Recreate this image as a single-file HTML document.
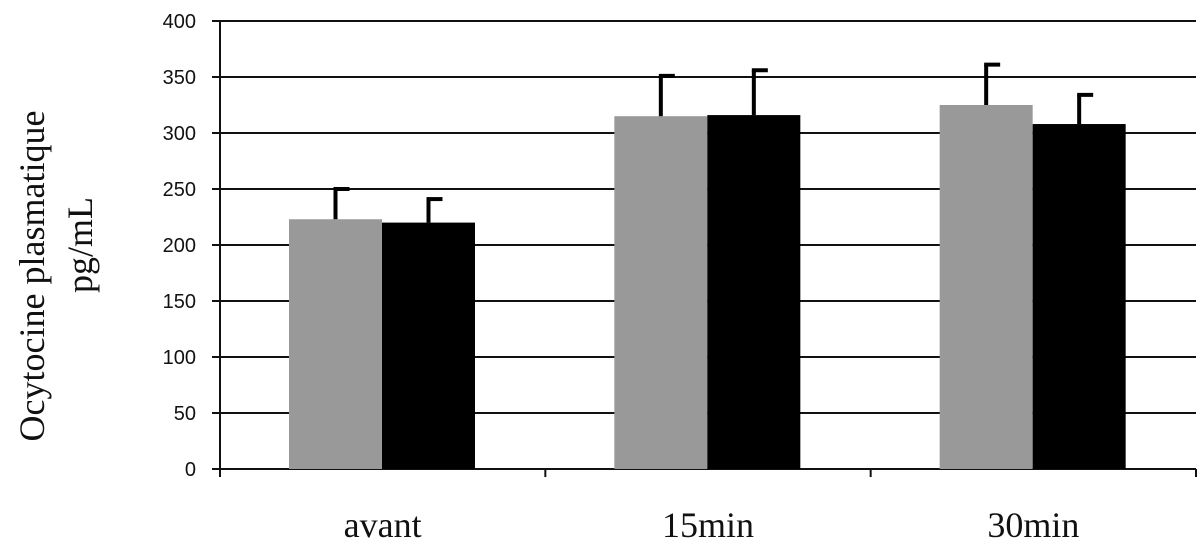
<!DOCTYPE html>
<html><head><meta charset="utf-8"><style>
html,body{margin:0;padding:0;background:#fff;}
svg{display:block;}
</style></head><body>
<svg id="chart" width="1200" height="546" xmlns="http://www.w3.org/2000/svg"></svg>
<script>
const categories = ["avant", "15min", "30min"];
const seriesGray = [223, 315, 325];
const seriesBlack = [220, 316, 308];
const errGray = [27, 36, 36];
const errBlack = [21, 40, 26];
const yTicks = [0, 50, 100, 150, 200, 250, 300, 350, 400];

const svg = document.getElementById('chart');
const NS = 'http://www.w3.org/2000/svg';
const x0 = 220, x1 = 1196, yTop = 21, yBot = 469, yMax = 400;
const catW = (x1 - x0) / categories.length;
const barW = 93, groupOff = 69;
function y(v){ return yBot - (v / yMax) * (yBot - yTop); }
function mk(tag, attrs){ const e = document.createElementNS(NS, tag); for (const k in attrs) e.setAttribute(k, attrs[k]); svg.appendChild(e); return e; }

yTicks.forEach(t => {
  const g = mk('line', {x1: x0 - 8, x2: x1, y1: y(t), y2: y(t), stroke: '#111', 'stroke-width': 2});
  
  
  const l = mk('text', {x: 196, y: y(t) + 7, 'text-anchor': 'end', 'font-family': 'Liberation Sans, sans-serif', 'font-size': 20, fill: '#111'});
  l.textContent = t;
  
  
});
const ax = mk('line', {x1: x0, x2: x0, y1: yTop, y2: yBot + 8, stroke: '#111', 'stroke-width': 2});


const xa = mk('line', {x1: x0, x2: x1, y1: yBot, y2: yBot, stroke: '#111', 'stroke-width': 2});



categories.forEach((c, i) => {
  const cx = x0 + catW * i;
  const tk = mk('line', {x1: cx + catW, x2: cx + catW, y1: yBot, y2: yBot + 8, stroke: '#111', 'stroke-width': 2});
  
  
  const bx = cx + groupOff;
  [[seriesGray, errGray, '#999999', 'gray'], [seriesBlack, errBlack, '#000000', 'black']].forEach((s, j) => {
    const v = s[0][i], e = s[1][i];
    const left = bx + j * barW;
    const r = mk('rect', {x: left, y: y(v), width: barW, height: yBot - y(v), fill: s[2]});
    
    
    const mid = left + barW / 2;
    const el = mk('line', {x1: mid, x2: mid, y1: y(v), y2: y(v + e), stroke: '#000', 'stroke-width': 4});
    
    
    const cap = mk('line', {x1: mid - 2, x2: mid + 14, y1: y(v + e), y2: y(v + e), stroke: '#000', 'stroke-width': 4});
    
    
  });
  const lab = mk('text', {x: cx + catW / 2, y: 537, 'text-anchor': 'middle', 'font-family': 'Liberation Serif, serif', 'font-size': 36, fill: '#111'});
  lab.textContent = c;
  
  
});

const t1 = mk('text', {x: 0, y: 0, 'text-anchor': 'middle', 'font-family': 'Liberation Serif, serif', 'font-size': 36, fill: '#111', transform: 'translate(44,276) rotate(-90)'});
t1.textContent = 'Ocytocine plasmatique';


const t2 = mk('text', {x: 0, y: 0, 'text-anchor': 'middle', 'font-family': 'Liberation Serif, serif', 'font-size': 36, fill: '#111', transform: 'translate(92,245) rotate(-90)'});
t2.textContent = 'pg/mL';


</script>
</body></html>
